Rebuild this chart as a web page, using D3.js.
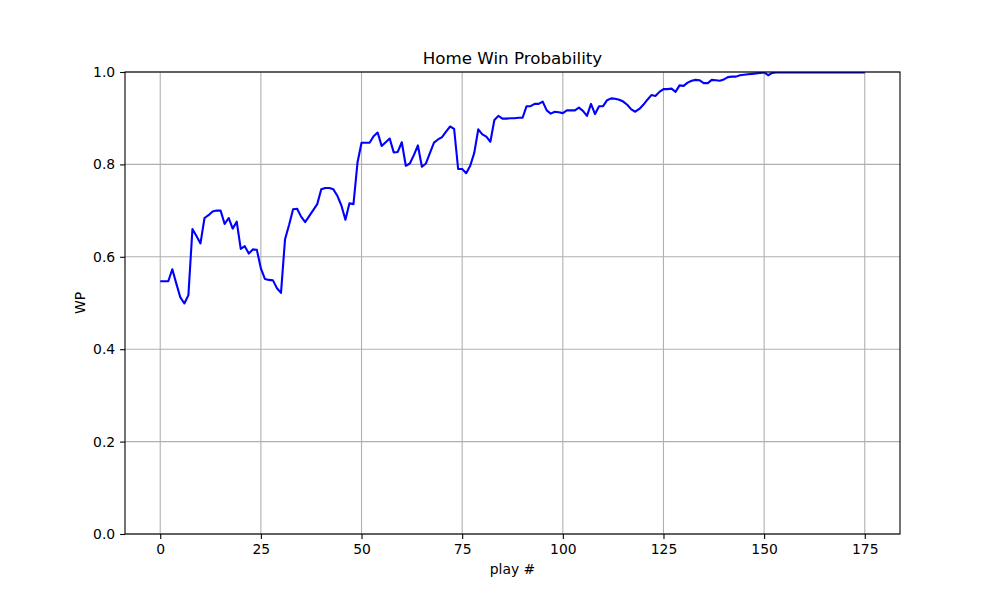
<!DOCTYPE html>
<meta charset="utf-8">
<script src="https://d3js.org/d3.v7.min.js"></script>
<style>
  body { margin: 0; background: #fff; }
  svg text { font-family: "DejaVu Sans", sans-serif; fill: #000; }
</style>
<div id="chart"></div>
<script>

// win probability after each play
const wp = [
  0.547, 0.547, 0.547, 0.573, 0.542, 0.512, 0.499, 0.517, 0.660, 0.645,
  0.629, 0.684, 0.690, 0.698, 0.700, 0.700, 0.671, 0.684, 0.661, 0.676,
  0.617, 0.623, 0.607, 0.616, 0.615, 0.575, 0.552, 0.550, 0.549, 0.532,
  0.522, 0.638, 0.669, 0.703, 0.704, 0.687, 0.675, 0.688, 0.701, 0.714,
  0.746, 0.749, 0.749, 0.746, 0.732, 0.711, 0.680, 0.716, 0.714, 0.804,
  0.847, 0.847, 0.847, 0.861, 0.869, 0.840, 0.848, 0.856, 0.826, 0.827,
  0.848, 0.797, 0.802, 0.820, 0.841, 0.795, 0.802, 0.825, 0.847, 0.854,
  0.859, 0.871, 0.882, 0.877, 0.790, 0.790, 0.781, 0.797, 0.825, 0.876,
  0.865, 0.860, 0.849, 0.896, 0.905, 0.899, 0.899, 0.900, 0.900, 0.901,
  0.901, 0.926, 0.926, 0.931, 0.931, 0.936, 0.917, 0.910, 0.914, 0.913,
  0.911, 0.917, 0.917, 0.917, 0.923, 0.916, 0.905, 0.931, 0.909, 0.926,
  0.926, 0.939, 0.943, 0.942, 0.940, 0.936, 0.929, 0.919, 0.914, 0.920,
  0.929, 0.940, 0.950, 0.948, 0.957, 0.963, 0.963, 0.964, 0.957, 0.971,
  0.970, 0.977, 0.981, 0.983, 0.982, 0.976, 0.976, 0.983, 0.982, 0.981,
  0.984, 0.989, 0.990, 0.990, 0.993, 0.994, 0.995, 0.996, 0.997, 0.998,
  0.999, 0.993, 0.998, 0.999, 0.999, 0.999, 0.999, 0.999, 0.999, 0.999,
  0.999, 0.999, 0.999, 0.999, 0.999, 0.999, 0.999, 0.999, 0.999, 0.999,
  0.999, 0.999, 0.999, 0.999, 0.999, 0.999
];
const xTicks = [0, 25, 50, 75, 100, 125, 150, 175];
const yTicks = [0.0, 0.2, 0.4, 0.6, 0.8, 1.0];

const W = 1000, H = 600;
const margin = {top: 72, right: 100, bottom: 66, left: 125},
    width = W - margin.left - margin.right,
    height = H - margin.top - margin.bottom;

const svg = d3.select("#chart")
  .append("svg")
    .attr("width", W)
    .attr("height", H);

// clip the line to the axes box like matplotlib does
svg.append("defs").append("clipPath")
    .attr("id", "plotclip")
  .append("rect")
    .attr("width", width).attr("height", height);

const g = svg.append("g")
    .attr("transform", `translate(${margin.left},${margin.top})`);

// x gets matplotlib's 5% padding, y is fixed 0..1
const n = wp.length - 1;
const pad = n * 0.05;
const x = d3.scaleLinear().domain([-pad, n + pad]).range([0, width]);
const y = d3.scaleLinear().domain([0, 1]).range([height, 0]);

// grid
g.append("g")
  .selectAll("line")
  .data(xTicks)
  .join("line")
    .attr("x1", d => x(d)).attr("x2", d => x(d))
    .attr("y1", 0).attr("y2", height)
    .attr("stroke", "#b0b0b0").attr("stroke-width", 1.1);
g.append("g")
  .selectAll("line")
  .data(yTicks)
  .join("line")
    .attr("x1", 0).attr("x2", width)
    .attr("y1", d => y(d)).attr("y2", d => y(d))
    .attr("stroke", "#b0b0b0").attr("stroke-width", 1.1);

// the line
const line = d3.line()
  .x((d, i) => x(i))
  .y(d => y(d));
g.append("path")
  .datum(wp)
  .attr("d", line)
  .attr("clip-path", "url(#plotclip)")
  .attr("fill", "none")
  .attr("stroke", "blue")
  .attr("stroke-width", 2.1)
  .attr("stroke-linejoin", "round");

// axes
const xAxis = g.append("g")
  .attr("transform", `translate(0,${height})`)
  .call(d3.axisBottom(x).tickValues(xTicks).tickFormat(d3.format("d"))
    .tickSizeInner(4.9).tickSizeOuter(0).tickPadding(4.9));
const yAxis = g.append("g")
  .call(d3.axisLeft(y).tickValues(yTicks).tickFormat(d3.format(".1f"))
    .tickSizeInner(4.9).tickSizeOuter(0).tickPadding(4.9));

[xAxis, yAxis].forEach(a => {
  a.select(".domain").remove();
  a.selectAll(".tick line").attr("stroke", "#000").attr("stroke-width", 1.1);
  a.selectAll(".tick text")
    .style("font-family", "DejaVu Sans")
    .style("font-size", "13.9px");
});

// frame
g.append("rect")
  .attr("width", width).attr("height", height)
  .attr("fill", "none")
  .attr("stroke", "#000")
  .attr("stroke-width", 1.1);

// labels
svg.append("text")
  .attr("x", margin.left + width / 2)
  .attr("y", margin.top - 8.3)
  .attr("text-anchor", "middle")
  .style("font-size", "16.7px")
  .text("Home Win Probability");

svg.append("text")
  .attr("x", margin.left + width / 2)
  .attr("y", 574)
  .attr("text-anchor", "middle")
  .style("font-size", "13.9px")
  .text("play #");

svg.append("text")
  .attr("transform", `translate(85,${margin.top + height / 2}) rotate(-90)`)
  .attr("text-anchor", "middle")
  .style("font-size", "13.9px")
  .text("WP");

</script>
